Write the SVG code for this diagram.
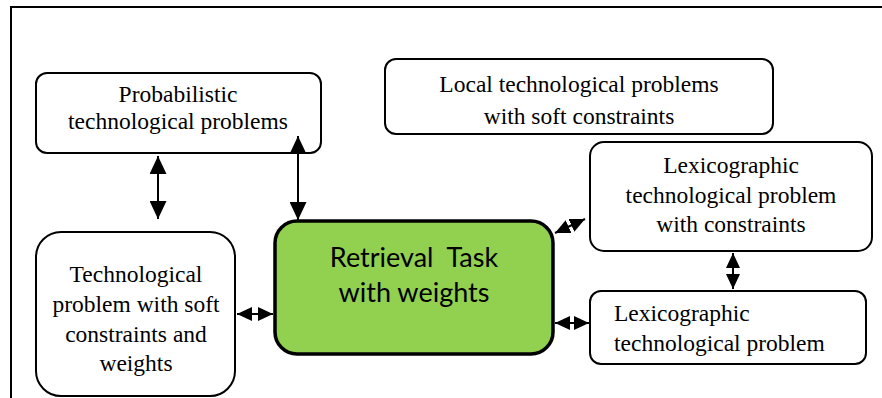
<svg xmlns="http://www.w3.org/2000/svg" width="882" height="398" viewBox="0 0 882 398">
<style>
.box{fill:#fff;stroke:#000;stroke-width:2}
.green{fill:#92D050;stroke:#000;stroke-width:3.5}
.serif{font-family:'Liberation Serif','Times New Roman',serif;font-size:23.5px;fill:#000}
.c{text-anchor:middle}
.g{font-family:Lato,'Open Sans','Noto Sans',sans-serif;font-size:27px;fill:#000;text-anchor:middle}
.ln{stroke:#000;stroke-width:2;fill:none}
</style>
<defs>
<marker id="ah" viewBox="0 0 10 10" refX="10" refY="5" markerWidth="9" markerHeight="8.5" orient="auto-start-reverse" markerUnits="strokeWidth" preserveAspectRatio="none">
<path d="M0,0 L10,5 L0,10 z" fill="#000"/>
</marker>
<marker id="sh" viewBox="0 0 10 10" refX="10" refY="5" markerWidth="7.5" markerHeight="7" orient="auto-start-reverse" markerUnits="strokeWidth" preserveAspectRatio="none">
<path d="M0,0 L10,5 L0,10 z" fill="#000"/>
</marker>
</defs>
<path d="M11,398 V7 H882" class="ln"/>
<g id="n-prob">
<rect class="box" x="36" y="73" width="285" height="80" rx="11"/>
<text class="serif c" x="178" y="102">Probabilistic</text>
<text class="serif c" x="178" y="129">technological problems</text>
</g>
<g id="n-local">
<rect class="box" x="385" y="59" width="388" height="75" rx="11"/>
<text class="serif c" x="579" y="92">Local technological problems</text>
<text class="serif c" x="579" y="124">with soft constraints</text>
</g>
<g id="n-lexc">
<rect class="box" x="590" y="142" width="282" height="109" rx="14"/>
<text class="serif c" x="731" y="173">Lexicographic</text>
<text class="serif c" x="731" y="203">technological problem</text>
<text class="serif c" x="731" y="232">with constraints</text>
</g>
<g id="n-lex">
<rect class="box" x="590" y="291" width="276" height="73" rx="11"/>
<text class="serif" x="614" y="321">Lexicographic</text>
<text class="serif" x="614" y="351">technological problem</text>
</g>
<g id="n-tech">
<rect class="box" x="36" y="232" width="199" height="164" rx="25"/>
<text class="serif c" x="136" y="282">Technological</text>
<text class="serif c" x="136" y="312">problem with soft</text>
<text class="serif c" x="136" y="342">constraints and</text>
<text class="serif c" x="136" y="371">weights</text>
</g>
<g id="n-main">
<rect class="green" x="275" y="221" width="278" height="133" rx="22"/>
<text class="g" x="414" y="267" xml:space="preserve">Retrieval  Task</text>
<text class="g" x="414" y="302">with weights</text>
</g>
<g id="connectors">
<line class="ln" x1="158" y1="156" x2="158" y2="219" marker-start="url(#ah)" marker-end="url(#ah)"/>
<line class="ln" x1="298" y1="136" x2="298" y2="220" marker-start="url(#ah)" marker-end="url(#ah)"/>
<line class="ln" x1="237" y1="314" x2="273" y2="314" marker-start="url(#sh)" marker-end="url(#sh)"/>
<line class="ln" x1="555" y1="323" x2="589" y2="323" marker-start="url(#sh)" marker-end="url(#sh)"/>
<line class="ln" x1="555" y1="233" x2="585" y2="219" marker-start="url(#sh)" marker-end="url(#sh)"/>
<line class="ln" x1="733" y1="253" x2="733" y2="289" marker-start="url(#sh)" marker-end="url(#sh)"/>
</g>
</svg>
